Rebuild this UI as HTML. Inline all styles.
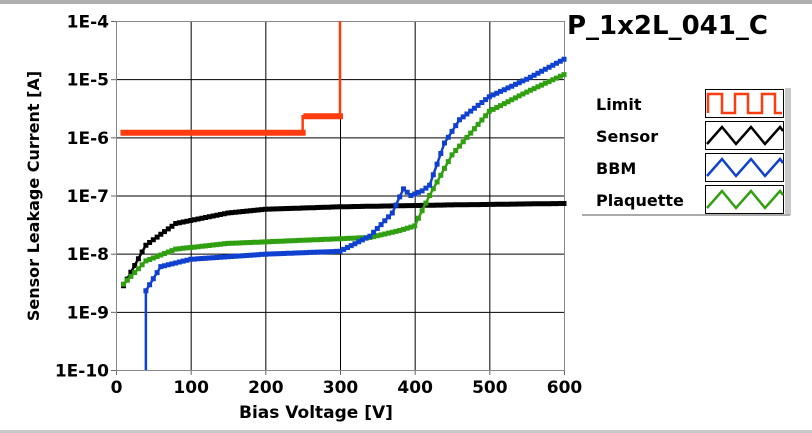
<!DOCTYPE html>
<html><head><meta charset="utf-8"><style>
body{margin:0;background:#fff;width:812px;height:433px;overflow:hidden;font-family:"DejaVu Sans","Liberation Sans",sans-serif;font-weight:bold}
</style></head><body>
<svg id="s" width="812" height="433" xmlns="http://www.w3.org/2000/svg" style="position:absolute;left:0;top:0">
<rect x="0" y="0" width="812" height="4" fill="#b0b0b0"/>
<rect x="0" y="430" width="812" height="3" fill="#c8c8c8"/>
<g id="grid" stroke="#000" stroke-width="1"></g>
<rect x="116.5" y="21.5" width="448" height="349" fill="none" stroke="#888" stroke-width="1"/>
<g id="series"></g>
<g id="labels" font-family="DejaVu Sans, Liberation Sans, sans-serif" font-weight="bold" font-size="17" fill="#000"></g>
<text x="316" y="418" text-anchor="middle" font-size="17" font-weight="bold" font-family="DejaVu Sans, Liberation Sans, sans-serif">Bias Voltage [V]</text>
<text transform="translate(39,196) rotate(-90)" text-anchor="middle" font-size="16" font-weight="bold" font-family="DejaVu Sans, Liberation Sans, sans-serif">Sensor Leakage Current [A]</text>
<text x="567" y="34" font-size="26" font-weight="bold" font-family="DejaVu Sans, Liberation Sans, sans-serif">P_1x2L_041_C</text>
<rect x="785" y="88" width="6" height="127" fill="#c8c8c8"/>
<line x1="582" y1="215" x2="790" y2="215" stroke="#aaa" stroke-width="2"/>
<g id="legend" font-size="16" font-weight="bold" font-family="DejaVu Sans, Liberation Sans, sans-serif"></g>
</svg>
<script>
const X=v=>116+v*448/600, Y=l=>21+(-4-l)*58.17;
const g=document.getElementById('grid'),lb=document.getElementById('labels'),sr=document.getElementById('series'),lg=document.getElementById('legend');
const NS='http://www.w3.org/2000/svg';
function el(p,t,a,txt){const e=document.createElementNS(NS,t);for(const k in a)e.setAttribute(k,a[k]);if(txt)e.textContent=txt;p.appendChild(e);return e;}
for(let i=0;i<=6;i++){const x=X(i*100)+.5;if(i>0&&i<6)el(g,'line',{x1:x,y1:21,x2:x,y2:370});el(g,'line',{x1:x,y1:370,x2:x,y2:375,stroke:'#666'});
el(lb,'text',{x:x,y:393,'text-anchor':'middle'},String(i*100));}
for(let i=0;i<=6;i++){const y=Y(-4-i)+.5;if(i>0&&i<6)el(g,'line',{x1:116,y1:y,x2:564,y2:y});el(g,'line',{x1:111,y1:y,x2:116,y2:y,stroke:'#666'});
el(lb,'text',{x:109,y:y+6,'text-anchor':'end'},'1E-'+(4+i));}
function interp(pts,v){for(let i=0;i<pts.length-1;i++){if(v<=pts[i+1][0]){const a=pts[i],b=pts[i+1];const t=(v-a[0])/(b[0]-a[0]);return Math.log10(a[1])*(1-t)+Math.log10(b[1])*t;}}return Math.log10(pts[pts.length-1][1]);}
function series(pts,col,v0,v1,step){let d='';let m='';for(let v=v0;v<=v1+1e-6;v+=step){const x=X(v),y=Y(interp(pts,v));d+=(d?'L':'M')+x.toFixed(1)+' '+y.toFixed(1);m+=`M${(x-2.5).toFixed(1)} ${(y-2.5).toFixed(1)}h5v5h-5z`;}
el(sr,'path',{d:d,stroke:col,'stroke-width':2.5,fill:'none'});el(sr,'path',{d:m,fill:col});}
const sensor=[[10,2.8e-9],[40,1.4e-8],[80,3.3e-8],[150,5e-8],[200,5.8e-8],[300,6.4e-8],[450,6.9e-8],[600,7.3e-8]];
const green=[[10,3e-9],[40,7.5e-9],[80,1.2e-8],[150,1.5e-8],[250,1.7e-8],[340,1.9e-8],[380,2.5e-8],[400,3e-8],[420,1e-7],[450,5e-7],[500,2.8e-6],[550,6e-6],[600,1.2e-5]];
const blue=[[40,2.3e-9],[60,6e-9],[100,8e-9],[200,9.8e-9],[300,1.1e-8],[340,2e-8],[370,5e-8],[385,1.3e-7],[395,1e-7],[410,1.2e-7],[420,1.5e-7],[440,8e-7],[460,2e-6],[500,5e-6],[550,1e-5],[600,2.2e-5]];
el(sr,'line',{x1:X(40),y1:Y(Math.log10(2.3e-9)),x2:X(40),y2:370,stroke:'#1040d0','stroke-width':2.5});
series(sensor,'#000',10,600,5);
series(green,'#30a010',10,600,5);
series(blue,'#1040d0',40,600,5);
{let m='';const col='#ff3c10';const yl=Y(Math.log10(1.2e-6)),yh=Y(Math.log10(2.3e-6));
el(sr,'path',{d:`M${X(10)} ${yl}H${X(250)}V${yh}H${X(300)}V21`,stroke:col,'stroke-width':2.5,fill:'none'});
for(let v=10;v<=300;v+=5){const y=v<=250?yl:yh;m+=`M${X(v)-3} ${y-3}h6v6h-6z`;}el(sr,'path',{d:m,fill:col});}
const L=[['Limit','#ff3c10',104],['Sensor','#000',136],['BBM','#1040d0',168],['Plaquette','#30a010',200]];
L.forEach(([n,c,y],i)=>{el(lg,'text',{x:596,y:y+6},n);el(lg,'rect',{x:705.5,y:y-14.5,width:78,height:28,fill:'#fff',stroke:'#000'});
let d;if(i==0){d=`M708 ${y+9}V${y-10}H722V${y+9}H735V${y-10}H748V${y+9}H762V${y-10}H775V${y+9}H782`;}
else{d=`M707 ${y+8}L722 ${y-9}L736 ${y+8}L751 ${y-9}L765 ${y+8}L780 ${y-9}L783 ${y-5}`;}
el(lg,'path',{d:d,stroke:c,'stroke-width':2.5,fill:'none'});});
</script>
</body></html>
